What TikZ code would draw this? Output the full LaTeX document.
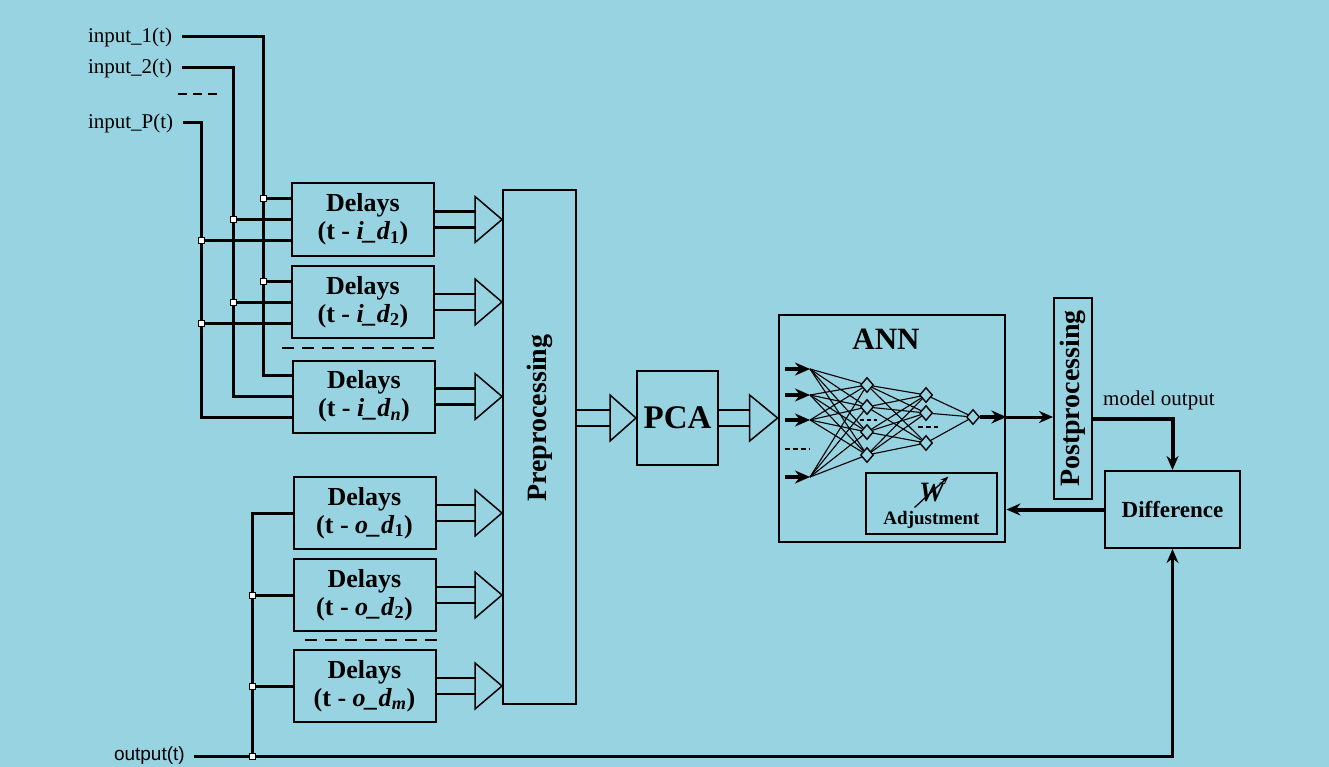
\documentclass[tikz,border=0pt]{standalone}
\usepackage{graphicx}
\usepackage{fontspec}
\setmainfont{Liberation Serif}
\newfontfamily\sansfont{Liberation Sans}
\usetikzlibrary{arrows.meta, positioning, calc, shapes.geometric}

\definecolor{paper}{RGB}{152,211,226}

\tikzset{
  wire/.style={line width=3pt},
  fatwire/.style={line width=4pt},
  bus/.style={line width=2.2pt},
  tri/.style={line width=1.5pt},
  box/.style={draw, line width=2pt, inner sep=2pt},
  delaybox/.style={box, minimum width=142pt, minimum height=72pt, align=center,
    font=\fontsize{26}{28}\selectfont\bfseries},
  siglabel/.style={anchor=west, inner sep=2pt, outer xsep=8pt, font=\fontsize{21}{24}\selectfont},
  neuron/.style={draw, diamond, fill=paper, inner sep=0pt, minimum width=13pt, minimum height=15pt, line width=1.4pt},
  syn/.style={line width=1.1pt},
  jn/.style={draw, fill=white, line width=1pt},
  dashsep/.style={line width=1.6pt, dash pattern=on 12pt off 8pt},
}

\begin{document}
\begin{tikzpicture}[x=1pt, y=-1pt, >={Stealth[length=14pt,width=12pt]}]
\fill[paper] (0,0) rectangle (1329,767);

% signals
\node[siglabel] (in1) at (78,37) {input\_1(t)};
\node[siglabel] (in2) at (78,68) {input\_2(t)};
\node[siglabel] (inP) at (78,123) {input\_P(t)};
\draw[line width=1.5pt, dash pattern=on 9pt off 6pt] (178,94) -- (218,94);
\node[siglabel, outer xsep=7pt, font=\fontsize{19}{22}\selectfont\sansfont] (out) at (105,756) {output(t)};

% delay blocks
\node[delaybox] (din1) at (363,219.5) {Delays\\(t - \textit{i\_d}\textsubscript{1})};
\node[delaybox] (din2) at (363,302) {Delays\\(t - \textit{i\_d}\textsubscript{2})};
\node[delaybox] (dinn) at (364,396.5) {Delays\\(t - \textit{i\_d}\textsubscript{\textit{n}})};
\draw[dashsep] (282,348) -- (440,348);

\node[delaybox] (dout1) at (364.5,513) {Delays\\(t - \textit{o\_d}\textsubscript{1})};
\node[delaybox] (dout2) at (364.5,595) {Delays\\(t - \textit{o\_d}\textsubscript{2})};
\node[delaybox] (doutm) at (364.5,686) {Delays\\(t - \textit{o\_d}\textsubscript{\textit{m}})};
\draw[dashsep] (305,640) -- (440,640);

% main chain
\node[box, minimum width=73pt, minimum height=514pt] (pre) at (539.5,447) {};
\node[box, minimum width=81pt, minimum height=94pt, font=\fontsize{33}{33}\selectfont\bfseries] (pca) at (677.5,418) {PCA};
\node[rotate=90, font=\fontsize{28}{28}\selectfont\bfseries] (prelbl) at (pre.center |- pca) {Preprocessing};
\node[box, line width=2.8pt, minimum width=226pt, minimum height=227pt] (ann) at (892,428.5) {};
\node[below=12pt of ann.north, xshift=-6pt, font=\fontsize{31}{31}\selectfont\bfseries] (annlbl) {ANN};
\node[box, line width=1.6pt, minimum width=131pt, minimum height=61pt] (adj) at (931.5,503.5) {};
\node[font=\fontsize{28}{28}\selectfont\bfseries\itshape] (wlbl) at ($(adj)+(0,-11)$) {W};
\node[font=\fontsize{19}{19}\selectfont\bfseries] (adjlbl) at ($(adj)+(0,16)$) {Adjustment};
\draw[line width=1.3pt, -{Stealth[length=8pt,width=6pt]}] ($(wlbl)+(-17,15)$) -- ($(wlbl)+(17,-16)$);
\node[box, minimum width=38pt, minimum height=201pt, inner sep=1pt,
  font=\fontsize{28}{28}\selectfont\bfseries] (post) at (1073,398.5) {\rotatebox{90}{Postprocessing}};
\node[box, minimum width=135pt, minimum height=77pt,
  font=\fontsize{23}{26}\selectfont\bfseries] (diff) at (1172.5,509.5) {\raisebox{-6pt}{Difference}};
\node[anchor=west, inner sep=1pt, font=\fontsize{21}{24}\selectfont] (mout) at (1102,400) {model output};

% network inside the ANN
\foreach \i/\y in {1/369, 2/395, 3/420, 4/477}{
  \coordinate (xs\i) at (785,\y);
  \coordinate (x\i) at (810,\y);
  \draw[line width=3.6pt, -{Stealth[length=15pt,width=13pt]}] (xs\i) -- (x\i);
}
\foreach \i/\y in {1/385, 2/407, 3/432, 4/455}
  \node[neuron] (h\i) at (867,\y) {};
\foreach \i/\y in {1/395, 2/413, 3/443}
  \node[neuron] (g\i) at (926,\y) {};
\node[neuron] (o) at (973,417) {};
\foreach \i in {1,...,4}
  \foreach \j in {1,...,4}
    \draw[syn] (x\i) -- (h\j);
\foreach \i in {1,...,4}
  \foreach \j in {1,2,3}
    \draw[syn] (h\i) -- (g\j);
\foreach \j in {1,2,3}
  \draw[syn] (g\j) -- (o);
\draw[line width=1.4pt, dash pattern=on 5pt off 3pt] (785,449) -- (810,449);
\draw[line width=1.1pt, dash pattern=on 4pt off 3pt] (860,420) -- (877,420);
\draw[line width=1.4pt, dash pattern=on 5pt off 3pt] (918,427) -- (938,427);
\draw[line width=3.6pt, -{Stealth[length=15pt,width=13pt]}] (o) -- (ann.east |- o);

% input wiring
\coordinate (bus1) at (263,0);
\coordinate (bus2) at (233,0);
\coordinate (busP) at (201,0);
\coordinate (obus) at (252,0);
\foreach \n in {din1,din2,dinn}{
  \coordinate (\n-a) at ($(\n.west)+(0,-21)$);
  \coordinate (\n-b) at (\n.west);
  \coordinate (\n-c) at ($(\n.west)+(0,21)$);
}
\draw[wire] (in1.east) -| (bus1 |- dinn-a) -- (dinn-a);
\draw[wire] (in2.east) -| (bus2 |- dinn-b) -- (dinn-b);
\draw[wire] (inP.east) -| (busP |- dinn-c) -- (dinn-c);
\foreach \n in {din1,din2}{
  \draw[wire] (bus1 |- \n-a) -- (\n-a);
  \draw[wire] (bus2 |- \n-b) -- (\n-b);
  \draw[wire] (busP |- \n-c) -- (\n-c);
  \foreach \b/\p in {bus1/a, bus2/b, busP/c}
    \draw[jn] (\b |- \n-\p) +(-3,-3) rectangle +(3,3);
}

% output wiring
\draw[wire, ->] (out.east) -| (diff.south);
\draw[wire] (obus |- out.east) |- (dout1.west);
\draw[wire] (obus |- dout2.west) -- (dout2.west);
\draw[wire] (obus |- doutm.west) -- (doutm.west);
\foreach \n in {dout2.west, doutm.west, out.east}
  \draw[jn] (obus |- \n) +(-3,-3) rectangle +(3,3);

% bus arrows
\foreach \n in {din1,din2,dinn,dout1,dout2,doutm}{
  \draw[bus] ($(\n.east)+(0,-8)$) -- ($(pre.west |- \n.east)+(-27,-8)$);
  \draw[bus] ($(\n.east)+(0,8)$) -- ($(pre.west |- \n.east)+(-27,8)$);
  \draw[tri] (pre.west |- \n.east) -- ++(-27,-23) -- ++(0,46) -- cycle;
}
\draw[bus] ($(pre.east |- pca.west)+(0,-8)$) -- ($(pca.west)+(-26,-8)$);
\draw[bus] ($(pre.east |- pca.west)+(0,8)$) -- ($(pca.west)+(-26,8)$);
\draw[tri] (pca.west) -- ++(-26,-23) -- ++(0,46) -- cycle;
\draw[bus] ($(pca.east)+(0,-8)$) -- ($(ann.west |- pca.east)+(-28,-8)$);
\draw[bus] ($(pca.east)+(0,8)$) -- ($(ann.west |- pca.east)+(-28,8)$);
\draw[tri] (ann.west |- pca.east) -- ++(-28,-23) -- ++(0,46) -- cycle;

% output side
\draw[wire, ->] (ann.east |- o) -- (post.west |- o);
\draw[fatwire, ->] ($(post.east)+(0,20)$) -| (diff.north);
\draw[fatwire, ->] (diff.west) -- (ann.east |- diff.west);
\end{tikzpicture}
\end{document}
